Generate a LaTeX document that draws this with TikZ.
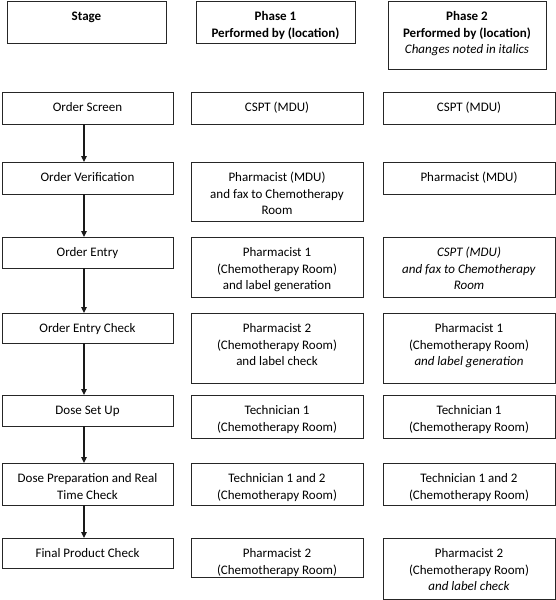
\documentclass[tikz,border=0pt]{standalone}
\usepackage{fontspec}
\setmainfont{Carlito}
\usetikzlibrary{arrows.meta}
\newcommand\mybox[6]{\node[bx,anchor=north west] (#1) at (#2,-#3) {\parbox[c][#5pt][t]{#4pt}{\centering\vspace*{8.5pt}\strut #6}};}
\begin{document}
\begin{tikzpicture}[x=1pt,y=1pt,
  bx/.style={draw=black!85,line width=1pt,inner sep=0pt,outer sep=0pt,font=\fontsize{13}{16.3}\selectfont},
  arr/.style={draw=black!90,line width=1.1pt,-{Triangle[length=6pt,width=5.5pt]}}]
\useasboundingbox (0,0) rectangle (556,-600);
% headers
\mybox{hs}{7}{1}{159}{42}{\textbf{Stage}}
\mybox{h1}{196}{1}{159}{42}{\textbf{Phase 1}\\\textbf{Performed by (location)}}
\mybox{h2}{388}{1}{158}{68}{\textbf{Phase 2}\\\textbf{Performed by (location)}\\\textit{Changes noted in italics}}
% row 1
\mybox{s1}{2}{92}{171}{32}{Order Screen}
\mybox{a1}{191}{92}{172}{32}{CSPT (MDU)}
\mybox{b1}{383}{92}{172}{32}{CSPT (MDU)}
% row 2
\mybox{s2}{2}{162}{171}{32}{Order Verification}
\mybox{a2}{191}{162}{172}{59}{Pharmacist (MDU)\\and fax to Chemotherapy\\Room}
\mybox{b2}{383}{162}{172}{32}{Pharmacist (MDU)}
% row 3
\mybox{s3}{2}{237}{171}{31}{Order Entry}
\mybox{a3}{191}{237}{172}{60}{Pharmacist 1\\(Chemotherapy Room)\\and label generation}
\mybox{b3}{383}{237}{172}{60}{\textit{CSPT (MDU)}\\\textit{and fax to Chemotherapy}\\\textit{Room}}
% row 4
\mybox{s4}{2}{313}{171}{30}{Order Entry Check}
\mybox{a4}{191}{313}{172}{70}{Pharmacist 2\\(Chemotherapy Room)\\and label check}
\mybox{b4}{383}{313}{172}{70}{Pharmacist 1\\(Chemotherapy Room)\\\textit{and label generation}}
% row 5
\mybox{s5}{2}{395}{171}{31}{Dose Set Up}
\mybox{a5}{191}{395}{172}{43}{Technician 1\\(Chemotherapy Room)}
\mybox{b5}{383}{395}{172}{43}{Technician 1\\(Chemotherapy Room)}
% row 6
\mybox{s6}{2}{463}{171}{42}{Dose Preparation and Real\\Time Check}
\mybox{a6}{191}{463}{172}{42}{Technician 1 and 2\\(Chemotherapy Room)}
\mybox{b6}{383}{463}{172}{42}{Technician 1 and 2\\(Chemotherapy Room)}
% row 7
\mybox{s7}{2}{538}{171}{30}{Final Product Check}
\mybox{a7}{191}{538}{172}{39}{Pharmacist 2\\(Chemotherapy Room)}
\mybox{b7}{383}{538}{172}{61}{Pharmacist 2\\(Chemotherapy Room)\\\textit{and label check}}
% arrows
\foreach \i/\j in {s1/s2,s2/s3,s3/s4,s4/s5,s5/s6,s6/s7}
  \draw[arr] ([xshift=-3.5pt]\i.south) -- ([xshift=-3.5pt]\j.north);
\end{tikzpicture}
\end{document}
